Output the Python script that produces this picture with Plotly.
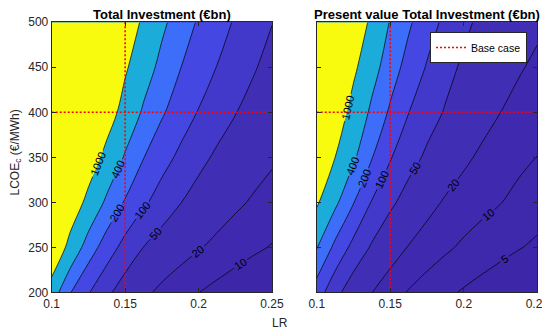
import numpy as np
import plotly.graph_objects as go

# Learning rate (x) and current LCOE (y) grid
lr = [0.1, 0.1125, 0.125, 0.1375, 0.15, 0.1625, 0.175, 0.1875, 0.2, 0.2125, 0.225, 0.2375, 0.25]
lcoe = [200, 250, 300, 350, 400, 450, 500]

# Total Investment (€bn), rows = lcoe, cols = lr (estimated from the contours)
total_inv = [
    [606, 208, 105, 57.8, 35.5, 23.6, 16.9, 12.9, 10.1, 8.21, 6.8, 5.75, 4.94],
    [2600, 719, 286, 143, 78.6, 49.7, 35.9, 27.1, 21.2, 16.8, 13.6, 11.3, 9.57],
    [6510, 1960, 755, 347, 188, 112, 73.4, 51.2, 37.8, 28.9, 22.8, 18.4, 15.2],
    [18100, 4950, 1750, 750, 370, 204, 129, 86.9, 60.7, 44.7, 34.4, 27.3, 22.1],
    [59500, 13600, 4160, 1580, 704, 361, 217, 141, 96.6, 69.1, 51.3, 38.2, 29.2],
    [89600, 20800, 6470, 2490, 1120, 572, 325, 204, 139, 98.6, 71.3, 53.4, 38.5],
    [183000, 39000, 11300, 4100, 1760, 860, 466, 283, 186, 130, 93.9, 68.1, 51],
]
# Present value Total Investment (€bn)
pv_total_inv = [
    [143, 62.2, 33.2, 20.2, 13.4, 9.54, 7.26, 5.73, 4.66, 3.88, 3.3, 2.86, 2.51],
    [416, 169, 81.3, 46, 28.6, 19.3, 14.4, 11.2, 8.91, 7.27, 6.07, 5.17, 4.47],
    [1120, 466, 206, 95.7, 57.8, 37.1, 25.2, 18.5, 14.8, 12.2, 10.2, 8.21, 6.7],
    [2730, 1000, 448, 206, 105, 65.7, 44.2, 31, 22.8, 17.6, 14.2, 11.8, 9.9],
    [5350, 1760, 721, 345, 181, 101, 67.3, 47.2, 34.2, 25.8, 20, 16, 13.1],
    [10900, 3190, 1190, 531, 275, 156, 94.8, 62.5, 44.4, 33.8, 26.5, 21.4, 17.4],
    [24900, 6170, 2020, 810, 381, 221, 134, 86.1, 57.8, 42.9, 34.1, 27.7, 23],
]

levels_left = [10, 20, 50, 100, 200, 400, 1000]
levels_right = [5, 10, 20, 50, 100, 200, 400, 1000]
x_ticks = [0.1, 0.15, 0.2, 0.25]
base_lr = 0.15
base_lcoe = 400

band_colors = {5: 'rgb(62,40,171)', 10: 'rgb(63,42,175)', 20: 'rgb(64,46,181)', 50: 'rgb(66,57,203)',
               100: 'rgb(68,71,226)', 200: 'rgb(61,110,250)', 400: 'rgb(28,172,218)', 1000: 'rgb(249,251,14)'}
base_color = 'rgb(62,38,168)'
axis_grey = '#262626'

fig = go.Figure()
for Z, levels, xa, ya in [(np.array(total_inv), levels_left, 'x', 'y'),
                          (np.array(pv_total_inv), levels_right, 'x2', 'y2')]:
    for L in levels:
        # log-scaled field whose contour at value L is the z = L iso-line
        zL = L + L * (np.log10(Z) - np.log10(L))
        fig.add_trace(go.Contour(
            x=lr, y=lcoe, z=zL, xaxis=xa, yaxis=ya,
            contours=dict(type='constraint', operation='<', value=L, showlabels=True,
                          labelfont=dict(size=11, color='black', family='Liberation Sans'),
                          labelformat='.0f'),
            fillcolor=band_colors[L], line=dict(color='black', width=0.7, smoothing=1),
            showscale=False, hoverinfo='skip', showlegend=False))

for i, (xa, ya) in enumerate([('x', 'y'), ('x2', 'y2')]):
    fig.add_trace(go.Scatter(
        x=[base_lr, base_lr, None, lr[0], lr[-1]], y=[lcoe[0], lcoe[-1], None, base_lcoe, base_lcoe],
        xaxis=xa, yaxis=ya, mode='lines', name='Base case', showlegend=(i == 1),
        line=dict(color='red', width=1.6, dash='2px,2px'), hoverinfo='skip'))

ax = dict(ticks='inside', ticklen=4, tickcolor=axis_grey, showline=True, linecolor=axis_grey,
          linewidth=1, mirror='ticks', showgrid=False, zeroline=False, automargin=False,
          tickfont=dict(size=12, color=axis_grey))
# the page body adds an 8px offset, so the figure is 8px smaller and positions shifted accordingly
fig.update_layout(
    width=542, height=324, margin=dict(l=0, r=0, t=0, b=0, autoexpand=False),
    paper_bgcolor='white', plot_bgcolor=base_color,
    font=dict(family='Liberation Sans, Arial, sans-serif', size=12, color='black'),
    xaxis=dict(domain=[0.0806, 0.4871], range=[0.1, 0.25], tickvals=x_ticks, anchor='y', **ax),
    yaxis=dict(domain=[0.1225, 0.9559], range=[200, 500], tick0=200, dtick=50, anchor='x', **ax),
    xaxis2=dict(domain=[0.5696, 0.9766], range=[0.1, 0.25], tickvals=x_ticks, anchor='y2', **ax),
    yaxis2=dict(domain=[0.1225, 0.9559], range=[200, 500], tick0=200, dtick=50, anchor='x2',
                showticklabels=False, **ax),
    legend=dict(x=0.9576, xanchor='right', y=0.9259, yanchor='top', bgcolor='white',
                bordercolor=axis_grey, borderwidth=1, font=dict(size=10.5, color='black'),
                tracegroupgap=0),
    annotations=[
        dict(text='<b>Total Investment (€bn)</b>', x=0.2841, y=0.98, xref='paper', yref='paper',
             xanchor='center', yanchor='middle', showarrow=False, font=dict(size=13)),
        dict(text='<b>Present value Total Investment (€bn)</b>', x=0.7725, y=0.98, xref='paper',
             yref='paper', xanchor='center', yanchor='middle', showarrow=False, font=dict(size=13)),
        dict(text='LCOE<sub>c</sub> (€/MWh)', x=7.5 / 542, y=0.5525, xref='paper', yref='paper',
             xanchor='center', yanchor='middle', showarrow=False, textangle=-90,
             font=dict(size=12, color=axis_grey)),
        dict(text='LR', x=0.5018, y=0.0278, xref='paper', yref='paper', xanchor='center',
             yanchor='middle', showarrow=False, font=dict(size=12, color=axis_grey)),
    ])
fig.write_html("out.html")
